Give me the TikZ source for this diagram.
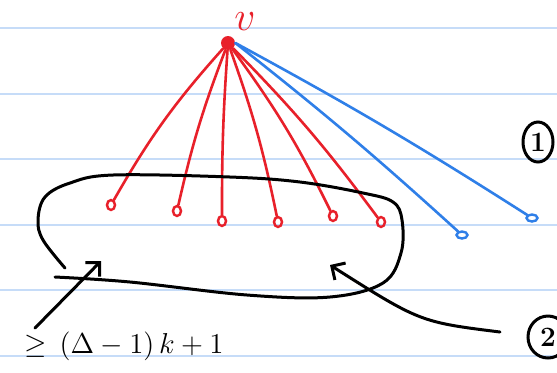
\documentclass[tikz,border=0pt]{standalone}
\usetikzlibrary{arrows.meta,shapes.geometric}
\definecolor{penred}{HTML}{E8202A}
\definecolor{penblue}{HTML}{2F7FE8}
\definecolor{ruleblue}{HTML}{C6DCF8}
\begin{document}
\begin{tikzpicture}[x=0.5pt,y=-0.5pt,
  rule/.style={draw=ruleblue,line width=1pt},
  redline/.style={draw=penred,line width=1.3pt,line cap=round},
  blueline/.style={draw=penblue,line width=1.3pt,line cap=round},
  blk/.style={draw=black,line width=1.5pt,line cap=round,line join=round},
  leaf/.style={ellipse,draw=penred,line width=1.2pt,minimum width=4pt,minimum height=5pt,inner sep=0pt},
  bleaf/.style={ellipse,draw=penblue,line width=1.2pt,minimum width=5.5pt,minimum height=3.5pt,inner sep=0pt},
  tip/.style={-{Straight Barb[length=5pt,width=10pt,line width=1.5pt]}},
  circnum/.style={ellipse,draw=black,line width=1.5pt,inner sep=0pt,font=\fontsize{14}{14}\selectfont\bfseries}]
\useasboundingbox (0,0) rectangle (557,372);
\fill[white] (0,0) rectangle (557,372);
\foreach \yy in {28,93.5,159,224.5,290,355.5} \draw[rule] (0,\yy) -- (557,\yy);

\node[circle,fill=penred,minimum size=7pt,inner sep=0pt] (v) at (228,43) {};
\node[text=penred,font=\fontsize{20}{20}\selectfont,inner sep=0pt] (vl) at (245,22) {$v$};

\node[leaf] (l1) at (111,205) {};
\node[leaf] (l2) at (177,211) {};
\node[leaf] (l3) at (222,221) {};
\node[leaf] (l4) at (278,222) {};
\node[leaf] (l5) at (333,216) {};
\node[leaf] (l6) at (381,222) {};
\node[bleaf] (b1) at (462,235) {};
\node[bleaf] (b2) at (532,218) {};

\draw[redline] (v) to[bend right=6] (l1);
\draw[redline] (v) to[bend right=4] (l2);
\draw[redline] (v) to[bend right=2] (l3);
\draw[redline] (v) to[bend left=4] (l4);
\draw[redline] (v) to[bend left=5] (l5);
\draw[redline] (v) to[bend left=4] (l6);
\draw[blueline] (v.east) to[bend left=2] (b1);
\draw[blueline] (v.east) to[bend left=2] (b2);

\draw[blk] plot[smooth,tension=0.6] coordinates {(65,268) (43,240) (38,220) (45,197) (70,183) (113,175) (230,177) (300,182) (363,193) (393,202) (402,220) (401,253) (383,283) (330,297) (247,295) (130,282) (55,277)};

\coordinate (a1s) at (35,328);
\coordinate (a1e) at (101,261);
\draw[blk,tip] (a1s) -- (a1e);
\coordinate (a2s) at (500,332);
\coordinate (a2e) at (330,265);
\draw[blk,tip] (a2s) .. controls (420,322) .. (a2e);

\node[anchor=west,font=\fontsize{15}{15}\selectfont,inner sep=0pt] (ineq) at (24,346) {$\geq\,(\Delta-1)\,k+1$};

\node[circnum,minimum width=15pt,minimum height=20pt] (c1) at (538,142) {1};
\node[circnum,minimum width=20pt,minimum height=21pt] (c2) at (548,337) {2};
\end{tikzpicture}
\end{document}
